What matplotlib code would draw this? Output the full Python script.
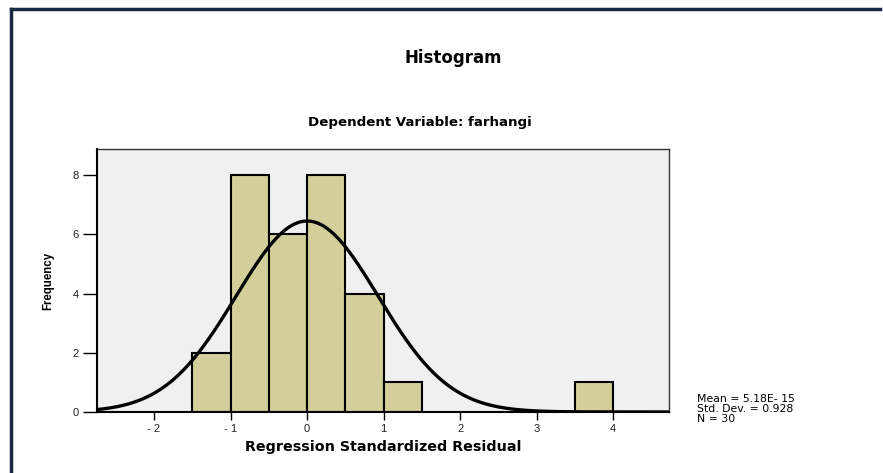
import matplotlib
matplotlib.use("Agg")
import matplotlib.pyplot as plt
import numpy as np

plt.rcParams["font.family"] = ["Liberation Sans", "DejaVu Sans"]

# histogram bins of the standardized residuals
bin_left = [-1.5, -1.0, -0.5, 0.0, 0.5, 1.0, 3.5]
counts = [2, 8, 6, 8, 4, 1, 1]
bin_width = 0.5

mean = 5.18e-15
std = 0.928
n = 30

x_ticks = [-2, -1, 0, 1, 2, 3, 4]
x_tick_labels = ["- 2", "- 1", "0", "1", "2", "3", "4"]
y_ticks = [0, 2, 4, 6, 8]

WIDE = ["DejaVu Sans"]

fig = plt.figure(figsize=(8.83, 4.73), dpi=100)
ax = fig.add_axes([0.1099, 0.129, 0.6478, 0.556])
ax.set_facecolor("#f0f0f0")

ax.bar(bin_left, counts, width=bin_width, align="edge",
       color="#d3cf9a", edgecolor="black", linewidth=1.5, zorder=2)

xs = np.linspace(-2.75, 4.73, 400)
pdf = n * bin_width * np.exp(-0.5 * ((xs - mean) / std) ** 2) / (std * np.sqrt(2 * np.pi))
ax.plot(xs, pdf, color="black", linewidth=2.4, zorder=3)

ax.set_xlim(-2.745, 4.73)
ax.set_ylim(0, 8.88)
ax.set_xticks(x_ticks)
ax.set_xticklabels(x_tick_labels)
ax.set_yticks(y_ticks)
ax.tick_params(axis="both", labelsize=8, width=1, direction="out", labelcolor="#222222")
ax.tick_params(axis="x", length=6, pad=3)
ax.tick_params(axis="y", length=10, pad=3)

for side in ["left", "bottom"]:
    ax.spines[side].set_color("black")
    ax.spines[side].set_linewidth(1.5)
for side in ["top", "right"]:
    ax.spines[side].set_color("#333333")
    ax.spines[side].set_linewidth(1.0)

ax.set_xlabel("Regression Standardized Residual", fontsize=10.3, fontweight="bold",
              family=WIDE, labelpad=4)
ax.set_ylabel("Frequency", fontsize=8.3, fontweight="bold", labelpad=13)

fig.text(0.513, 0.877, "Histogram", ha="center", va="center", fontsize=12,
         fontweight="bold", family=WIDE)
fig.text(0.475, 0.74, "Dependent Variable: farhangi", ha="center", va="center",
         fontsize=9.6, fontweight="bold", family=WIDE)

fig.text(0.789, 0.135, f"Mean = 5.18E- 15\nStd. Dev. = {std}\nN = {n}",
         ha="left", va="center", fontsize=7.8, family=WIDE, linespacing=1.0)

# outer frame of the output window
fig.add_artist(plt.Line2D([0.0125, 0.997], [0.98, 0.98], color="#1a2a44", linewidth=2.5))
fig.add_artist(plt.Line2D([0.0125, 0.0125], [0.0, 0.98], color="#1a2a44", linewidth=2.5))

fig.savefig("out.png", dpi=100)
